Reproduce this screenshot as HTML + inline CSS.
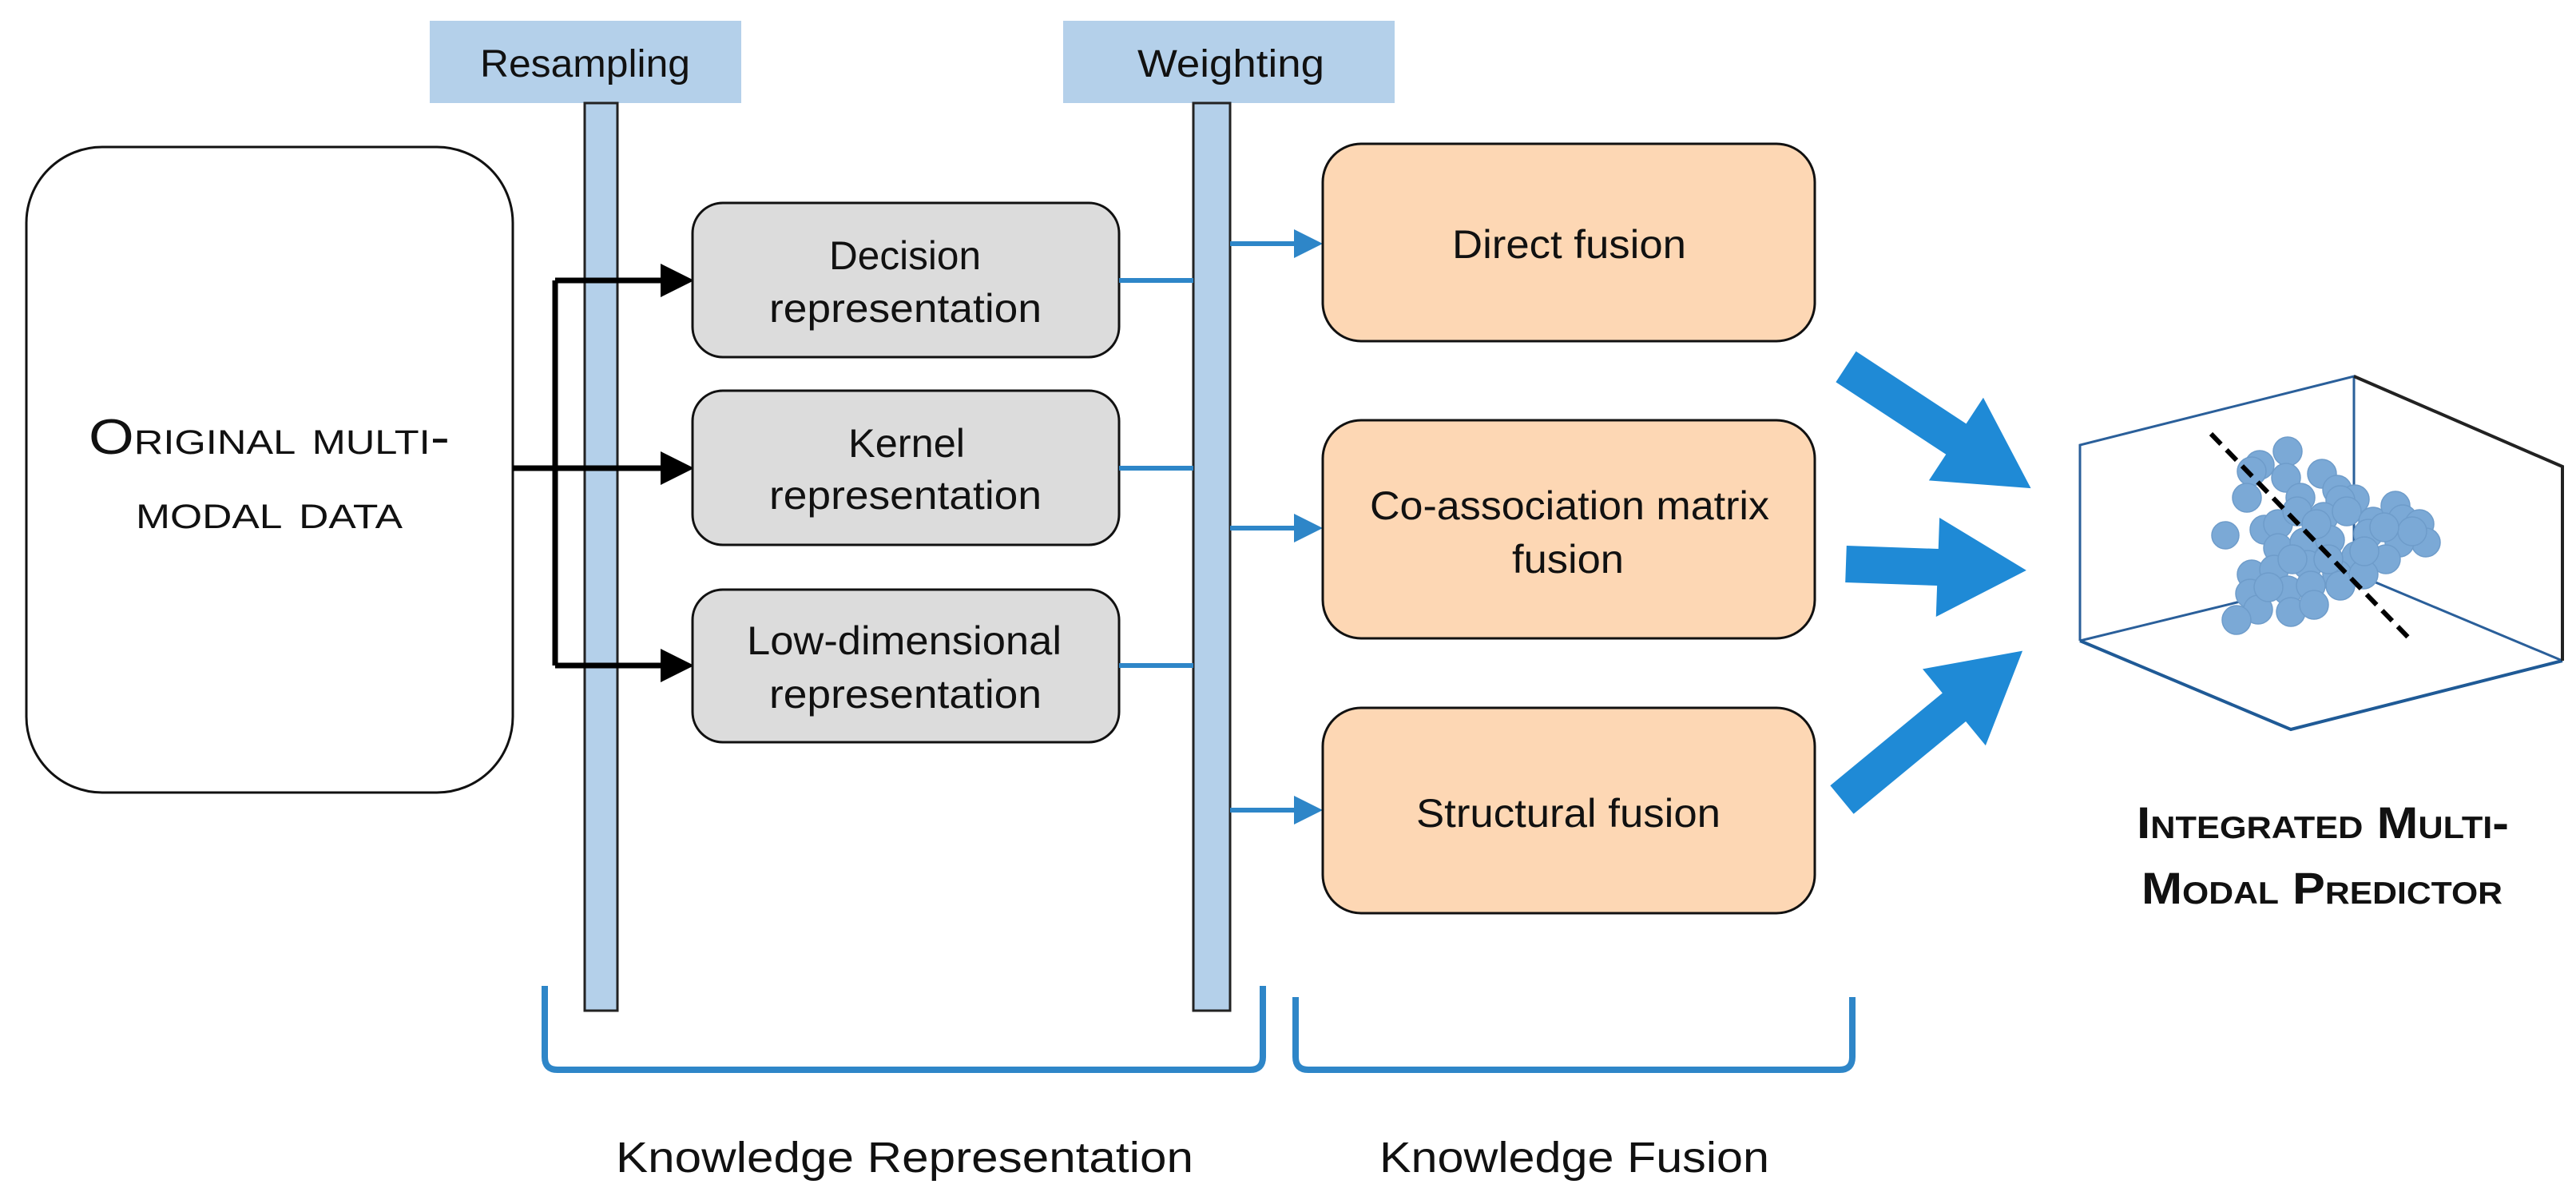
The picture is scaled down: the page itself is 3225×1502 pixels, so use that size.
<!DOCTYPE html>
<html><head><meta charset="utf-8"><style>
html,body{margin:0;padding:0;background:#fff;overflow:hidden;}
svg{display:block;}
text{font-family:"Liberation Sans",sans-serif;fill:#111;}
</style></head><body>
<svg width="3225" height="1502" viewBox="0 0 3225 1502" xmlns="http://www.w3.org/2000/svg">
<defs>
<marker id="ab" markerWidth="6" markerHeight="6" refX="5" refY="3" orient="auto" markerUnits="strokeWidth"><path d="M0,0 L6,3 L0,6 z" fill="#000"/></marker>
<marker id="abl" markerWidth="6" markerHeight="6" refX="5" refY="3" orient="auto" markerUnits="strokeWidth"><path d="M0,0 L6,3 L0,6 z" fill="#2e86c8"/></marker>
</defs>

<rect x="538" y="26" width="390" height="103" fill="#b4d0ea"/>
<rect x="1331" y="26" width="415" height="103" fill="#b4d0ea"/>
<text x="601" y="96" font-size="48" textLength="263" lengthAdjust="spacingAndGlyphs">Resampling</text>
<text x="1424" y="96" font-size="48" textLength="234" lengthAdjust="spacingAndGlyphs">Weighting</text>

<rect x="732" y="129" width="41" height="1136" fill="#b4d0ea" stroke="#222" stroke-width="3"/>
<rect x="1494" y="129" width="46" height="1136" fill="#b4d0ea" stroke="#222" stroke-width="3"/>

<rect x="33" y="184" width="609" height="808" rx="95" fill="#fff" stroke="#111" stroke-width="3"/>
<text x="111" y="568" font-size="62" style="font-variant:small-caps" textLength="452" lengthAdjust="spacingAndGlyphs">Original multi-</text>
<text x="170" y="661" font-size="62" style="font-variant:small-caps" textLength="334" lengthAdjust="spacingAndGlyphs">modal data</text>

<path d="M642 586 H695 M695 351 V833" stroke="#000" stroke-width="7" fill="none"/>
<line x1="695" y1="351" x2="862" y2="351" stroke="#000" stroke-width="7" marker-end="url(#ab)"/>
<line x1="695" y1="586" x2="862" y2="586" stroke="#000" stroke-width="7" marker-end="url(#ab)"/>
<line x1="695" y1="833" x2="862" y2="833" stroke="#000" stroke-width="7" marker-end="url(#ab)"/>

<rect x="867" y="254" width="534" height="193" rx="38" fill="#dcdcdc" stroke="#111" stroke-width="3"/>
<rect x="867" y="489" width="534" height="193" rx="38" fill="#dcdcdc" stroke="#111" stroke-width="3"/>
<rect x="867" y="738" width="534" height="191" rx="38" fill="#dcdcdc" stroke="#111" stroke-width="3"/>
<text x="1038" y="337" font-size="50" textLength="190" lengthAdjust="spacingAndGlyphs">Decision</text>
<text x="963" y="403" font-size="50" textLength="341" lengthAdjust="spacingAndGlyphs">representation</text>
<text x="1062" y="572" font-size="50" textLength="146" lengthAdjust="spacingAndGlyphs">Kernel</text>
<text x="963" y="637" font-size="50" textLength="341" lengthAdjust="spacingAndGlyphs">representation</text>
<text x="935" y="819" font-size="50" textLength="394" lengthAdjust="spacingAndGlyphs">Low-dimensional</text>
<text x="963" y="886" font-size="50" textLength="341" lengthAdjust="spacingAndGlyphs">representation</text>

<g stroke="#2e86c8" stroke-width="6">
<line x1="1401" y1="351" x2="1494" y2="351"/>
<line x1="1401" y1="586" x2="1494" y2="586"/>
<line x1="1401" y1="833" x2="1494" y2="833"/>
<line x1="1540" y1="305" x2="1650" y2="305" marker-end="url(#abl)"/>
<line x1="1540" y1="661" x2="1650" y2="661" marker-end="url(#abl)"/>
<line x1="1540" y1="1014" x2="1650" y2="1014" marker-end="url(#abl)"/>
</g>

<rect x="1656" y="180" width="616" height="247" rx="48" fill="#fdd7b4" stroke="#111" stroke-width="3"/>
<rect x="1656" y="526" width="616" height="273" rx="48" fill="#fdd7b4" stroke="#111" stroke-width="3"/>
<rect x="1656" y="886" width="616" height="257" rx="48" fill="#fdd7b4" stroke="#111" stroke-width="3"/>
<text x="1818" y="323" font-size="50" textLength="293" lengthAdjust="spacingAndGlyphs">Direct fusion</text>
<text x="1715" y="650" font-size="50" textLength="500" lengthAdjust="spacingAndGlyphs">Co-association matrix</text>
<text x="1893" y="717" font-size="50" textLength="140" lengthAdjust="spacingAndGlyphs">fusion</text>
<text x="1773" y="1035" font-size="50" textLength="381" lengthAdjust="spacingAndGlyphs">Structural fusion</text>

<g fill="#1f8ad6">
<path transform="translate(2311,459) rotate(33.3)" d="M0,-23 H165 V-62 L277,0 L165,62 V23 H0 z"/>
<path transform="translate(2311,706) rotate(2)" d="M0,-23 H115 V-62 L226,0 L115,62 V23 H0 z"/>
<path transform="translate(2306,1001) rotate(-39.5)" d="M0,-23 H182 V-62 L293,0 L182,62 V23 H0 z"/>
</g>

<g fill="none" stroke-width="3">
<path d="M2604,802 V557 L2947,471 V718 M2604,802 L2948,718 L3208,827" stroke="#2a5f9a"/>
<path d="M2604,802 L2868,913 L3208,827" stroke="#1f5a96" stroke-width="4"/>
<path d="M2947,471 L3208,584 V827" stroke="#222" stroke-width="4"/>
</g>
<g fill="#7ba9d6" stroke="#6e9cca" stroke-width="1.5">
<circle cx="2864" cy="565" r="18"/><circle cx="2829" cy="582" r="18"/><circle cx="2819" cy="590" r="18"/>
<circle cx="2862" cy="598" r="18"/><circle cx="2907" cy="593" r="18"/><circle cx="2813" cy="623" r="18"/>
<circle cx="2786" cy="670" r="17"/><circle cx="2880" cy="623" r="18"/><circle cx="2926" cy="613" r="18"/>
<circle cx="2948" cy="625" r="18"/><circle cx="2930" cy="626" r="18"/><circle cx="2835" cy="663" r="18"/>
<circle cx="2852" cy="656" r="18"/><circle cx="2876" cy="640" r="18"/><circle cx="2909" cy="647" r="18"/>
<circle cx="2938" cy="640" r="18"/><circle cx="2971" cy="653" r="18"/><circle cx="2999" cy="633" r="18"/>
<circle cx="3008" cy="650" r="18"/><circle cx="3029" cy="656" r="18"/><circle cx="3037" cy="679" r="18"/>
<circle cx="3004" cy="679" r="18"/><circle cx="2987" cy="700" r="18"/><circle cx="2852" cy="686" r="18"/>
<circle cx="2885" cy="679" r="18"/><circle cx="2917" cy="676" r="18"/><circle cx="2950" cy="696" r="18"/>
<circle cx="2819" cy="719" r="18"/><circle cx="2847" cy="713" r="18"/><circle cx="2889" cy="707" r="18"/>
<circle cx="2926" cy="719" r="18"/><circle cx="2817" cy="743" r="18"/><circle cx="2864" cy="739" r="18"/>
<circle cx="2893" cy="733" r="18"/><circle cx="2930" cy="733" r="18"/><circle cx="2959" cy="719" r="18"/>
<circle cx="2827" cy="763" r="18"/><circle cx="2868" cy="766" r="18"/><circle cx="2897" cy="757" r="18"/>
<circle cx="2800" cy="776" r="18"/><circle cx="2965" cy="668" r="18"/><circle cx="2900" cy="656" r="18"/>
<circle cx="2960" cy="690" r="18"/><circle cx="2915" cy="700" r="18"/><circle cx="3020" cy="665" r="18"/>
<circle cx="2870" cy="700" r="18"/><circle cx="2985" cy="660" r="18"/><circle cx="2840" cy="735" r="18"/>
</g>
<line x1="2768" y1="543" x2="3020" y2="803" stroke="#000" stroke-width="6" stroke-dasharray="18,10"/>

<text x="2675" y="1049" font-size="56" font-weight="bold" style="font-variant:small-caps" textLength="466" lengthAdjust="spacingAndGlyphs">Integrated Multi-</text>
<text x="2681" y="1131" font-size="56" font-weight="bold" style="font-variant:small-caps" textLength="452" lengthAdjust="spacingAndGlyphs">Modal Predictor</text>

<g fill="none" stroke="#2e86c8" stroke-width="8">
<path d="M682 1234 V1323 Q682 1339 698 1339 H1565 Q1581 1339 1581 1323 V1234"/>
<path d="M1622 1248 V1323 Q1622 1339 1638 1339 H2303 Q2319 1339 2319 1323 V1248"/>
</g>
<text x="771" y="1467" font-size="54" textLength="723" lengthAdjust="spacingAndGlyphs">Knowledge Representation</text>
<text x="1727" y="1467" font-size="54" textLength="488" lengthAdjust="spacingAndGlyphs">Knowledge Fusion</text>
</svg>
</body></html>
